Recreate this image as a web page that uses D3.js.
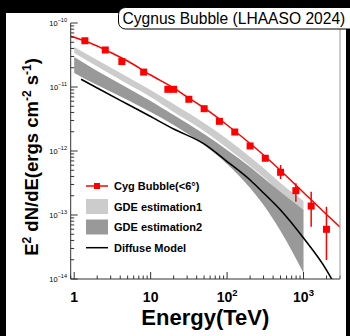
<!DOCTYPE html>
<html>
<head>
<meta charset="utf-8">
<script src="https://cdn.jsdelivr.net/npm/d3@7"></script>
<style>
  body { margin: 0; background: #000; }
  text { font-family: "Liberation Sans", Arial, Helvetica, sans-serif; }
</style>
</head>
<body>
<script>
// chart size and plot box
const WIDTH = 350;
const HEIGHT = 336;
const PLOT = {left: 70.7, right: 340, top: 23, bottom: 279};

// Cyg Bubble data points (TeV, erg cm-2 s-1)
const energy = [1.38, 2.55, 4.2, 8.1, 16.8, 20, 31.6, 50.1, 79.4, 126, 200, 316, 501, 794, 1259, 1995];
const flux = [5.28e-11, 3.79e-11, 2.50e-11, 1.71e-11, 9.2e-12, 9.2e-12, 6.43e-12, 4.58e-12, 2.91e-12, 1.98e-12, 1.20e-12, 7.7e-13, 4.65e-13, 2.40e-13, 1.38e-13, 5.98e-14];
const fluxLow = [5.28e-11, 3.79e-11, 2.50e-11, 1.71e-11, 9.2e-12, 9.2e-12, 6.43e-12, 4.58e-12, 2.91e-12, 1.98e-12, 1.20e-12, 7.7e-13, 3.65e-13, 1.61e-13, 6.56e-14, 1.98e-14];
const fluxHigh = [5.28e-11, 3.79e-11, 2.50e-11, 1.71e-11, 9.2e-12, 9.2e-12, 6.43e-12, 4.58e-12, 2.91e-12, 1.98e-12, 1.20e-12, 7.7e-13, 6.04e-13, 3.13e-13, 2.31e-13, 1.35e-13];

// fitted spectrum (red line)
const fitEnergy = [0.9, 1, 2, 3, 5, 10, 20, 30, 50, 100, 200, 300, 500, 1000, 2000, 3000];
const fitFlux = [6.26e-11, 6.00e-11, 4.37e-11, 3.46e-11, 2.55e-11, 1.54e-11, 9.65e-12, 6.98e-12, 4.70e-12, 2.55e-12, 1.31e-12, 8.66e-13, 4.96e-13, 2.25e-13, 1.02e-13, 6.49e-14];

// GDE bands
const gdeEnergy = [1, 2, 5, 10, 20, 50, 100, 200, 300, 500, 1000];
const gde1High = [4.22e-11, 2.64e-11, 1.43e-11, 8.98e-12, 5.43e-12, 2.74e-12, 1.54e-12, 8.06e-13, 5.43e-13, 3.16e-13, 1.66e-13];
const gde1Low = [3.40e-11, 2.09e-11, 1.11e-11, 6.98e-12, 4.07e-12, 2.05e-12, 1.11e-12, 5.83e-13, 3.92e-13, 2.21e-13, 1.11e-13];
const gde2High = [2.94e-11, 1.78e-11, 9.65e-12, 6.04e-12, 3.65e-12, 1.84e-12, 1.04e-12, 5.62e-13, 3.79e-13, 2.29e-13, 1.20e-13];
const gde2Low = [1.66e-11, 1.07e-11, 6.26e-12, 4.07e-12, 2.55e-12, 1.24e-12, 6.26e-13, 2.64e-13, 1.43e-13, 5.62e-14, 1.24e-14];

// diffuse model (black line)
const modelEnergy = [1.23, 2, 5, 10, 20, 50, 100, 200, 300, 500, 1000, 2000, 2500];
const modelFlux = [1.32e-11, 9.65e-12, 5.37e-12, 3.45e-12, 2.21e-12, 1.29e-12, 6.85e-13, 3.52e-13, 2.21e-13, 1.20e-13, 4.37e-14, 1.38e-14, 8.66e-15];

// axis ticks
const yDecades = [-14, -13, -12, -11, -10];
const xMajor = [1, 10, 100, 1000];
const xLabels = [["1", ""], ["10", ""], ["10", "2"], ["10", "3"]];

const legendLabels = ["Cyg Bubble(<6\u00B0)", "GDE estimation1", "GDE estimation2", "Diffuse Model"];

const svg = d3.select("body").append("svg")
    .attr("width", WIDTH)
    .attr("height", HEIGHT);

svg.append("rect").attr("width", WIDTH).attr("height", HEIGHT).attr("fill", "#000");
svg.append("rect").attr("x", 6).attr("y", 13).attr("width", 340).attr("height", HEIGHT - 13).attr("fill", "#fff");

const x = d3.scaleLog().domain([0.9, 3000]).range([PLOT.left, PLOT.right]);
const y = d3.scaleLog().domain([1e-14, 1e-10]).range([PLOT.bottom, PLOT.top]);

svg.append("clipPath").attr("id", "plotclip")
  .append("rect")
    .attr("x", PLOT.left).attr("y", PLOT.top)
    .attr("width", PLOT.right - PLOT.left).attr("height", PLOT.bottom - PLOT.top);

const plot = svg.append("g").attr("clip-path", "url(#plotclip)");

// bands
const area = d3.area()
    .x(d => x(d[0]))
    .y0(d => y(d[1]))
    .y1(d => y(d[2]))
    .curve(d3.curveMonotoneX);

plot.append("path")
    .datum(gdeEnergy.map((e, i) => [e, gde1Low[i], gde1High[i]]))
    .attr("d", area)
    .attr("fill", "#cccccc");

plot.append("path")
    .datum(gdeEnergy.map((e, i) => [e, gde2Low[i], gde2High[i]]))
    .attr("d", area)
    .attr("fill", "#999999");

const line = d3.line()
    .x(d => x(d[0]))
    .y(d => y(d[1]))
    .curve(d3.curveMonotoneX);

plot.append("path")
    .datum(modelEnergy.map((e, i) => [e, modelFlux[i]]))
    .attr("d", line)
    .attr("fill", "none")
    .attr("stroke", "#000")
    .attr("stroke-width", 1.6);

plot.append("path")
    .datum(fitEnergy.map((e, i) => [e, fitFlux[i]]))
    .attr("d", line)
    .attr("fill", "none")
    .attr("stroke", "#ff0000")
    .attr("stroke-width", 1.5);

// error bars
plot.append("g").selectAll("line")
    .data(energy.map((e, i) => [e, fluxLow[i], fluxHigh[i]]).filter(d => d[1] !== d[2]))
    .enter()
    .append("line")
    .attr("x1", d => x(d[0])).attr("x2", d => x(d[0]))
    .attr("y1", d => y(d[1])).attr("y2", d => y(d[2]))
    .attr("stroke", "#ff0000")
    .attr("stroke-width", 1.5);

// square markers
const MS = 7;
plot.append("g").selectAll("rect")
    .data(energy.map((e, i) => [e, flux[i]]))
    .enter()
    .append("rect")
    .attr("x", d => x(d[0]) - MS / 2)
    .attr("y", d => y(d[1]) - MS / 2)
    .attr("width", MS).attr("height", MS)
    .attr("fill", "#ff0000");

// axes
const axis = svg.append("g").attr("stroke", "#333").attr("stroke-width", 1);
axis.append("line").attr("x1", PLOT.left).attr("x2", PLOT.left).attr("y1", PLOT.top).attr("y2", PLOT.bottom);
axis.append("line").attr("x1", PLOT.left).attr("x2", PLOT.right).attr("y1", PLOT.bottom).attr("y2", PLOT.bottom);
svg.append("line").attr("x1", PLOT.right).attr("x2", PLOT.right).attr("y1", PLOT.top).attr("y2", PLOT.bottom)
    .attr("stroke", "#999").attr("stroke-width", 1);

// y ticks
const yTicks = [];
yDecades.forEach(d => {
  yTicks.push([Math.pow(10, d), 7]);
  if (d < -10) for (let k = 2; k <= 9; k++) yTicks.push([k * Math.pow(10, d), 3.5]);
});
axis.selectAll(".ytick").data(yTicks).enter().append("line")
    .attr("x1", PLOT.left).attr("x2", d => PLOT.left + d[1])
    .attr("y1", d => y(d[0])).attr("y2", d => y(d[0]));

const yLab = svg.append("g").selectAll("text").data(yDecades).enter().append("text")
    .attr("x", 67).attr("y", d => y(Math.pow(10, d)) + 2.5)
    .attr("text-anchor", "end")
    .attr("font-size", 7.5)
    .attr("fill", "#000");
yLab.append("tspan").text("10");
yLab.append("tspan").attr("dy", -3.5).attr("font-size", 5.5).text(d => "\u2212" + (-d));

// x ticks
const xTicks = [];
for (let d = -1; d <= 3; d++) {
  for (let k = 1; k <= 9; k++) {
    const v = k * Math.pow(10, d);
    if (v >= 0.9 && v <= 3000) xTicks.push([v, k === 1 ? 7 : 3.5]);
  }
}
axis.selectAll(".xtick").data(xTicks).enter().append("line")
    .attr("x1", d => x(d[0])).attr("x2", d => x(d[0]))
    .attr("y1", PLOT.bottom).attr("y2", d => PLOT.bottom - d[1]);

const xLab = svg.append("g").selectAll("text").data(xMajor).enter().append("text")
    .attr("x", d => x(d)).attr("y", 302)
    .attr("text-anchor", "middle")
    .attr("font-size", 14)
    .attr("font-weight", "bold");
xLab.append("tspan").text((d, i) => xLabels[i][0]);
xLab.append("tspan").attr("dy", -6).attr("font-size", 9.5).text((d, i) => xLabels[i][1]);

// axis titles
svg.append("text")
    .attr("x", (PLOT.left + PLOT.right) / 2).attr("y", 325)
    .attr("text-anchor", "middle")
    .attr("font-size", 22)
    .attr("font-weight", "bold")
    .text("Energy(TeV)");

const yTitle = svg.append("text")
    .attr("transform", "translate(38,157) rotate(-90)")
    .attr("text-anchor", "middle")
    .attr("font-size", 18.5)
    .attr("font-weight", "bold");
yTitle.append("tspan").text("E");
yTitle.append("tspan").attr("dy", -7).attr("font-size", 12).text("2");
yTitle.append("tspan").attr("dy", 7).text(" dN/dE(ergs cm");
yTitle.append("tspan").attr("dy", -7).attr("font-size", 12).text("-2");
yTitle.append("tspan").attr("dy", 7).text(" s");
yTitle.append("tspan").attr("dy", -7).attr("font-size", 12).text("-1");
yTitle.append("tspan").attr("dy", 7).text(")");

// legend
const legendY = [186, 206.5, 227, 247.7];
const legend = svg.append("g");
legend.append("line").attr("x1", 86).attr("x2", 108).attr("y1", legendY[0]).attr("y2", legendY[0])
    .attr("stroke", "#ff0000").attr("stroke-width", 1.5);
legend.append("rect").attr("x", 97 - 3).attr("y", legendY[0] - 3).attr("width", 6).attr("height", 6).attr("fill", "#ff0000");
legend.append("rect").attr("x", 86).attr("y", legendY[1] - 7.5).attr("width", 22).attr("height", 15).attr("fill", "#cccccc");
legend.append("rect").attr("x", 86).attr("y", legendY[2] - 7.5).attr("width", 22).attr("height", 15).attr("fill", "#999999");
legend.append("line").attr("x1", 86).attr("x2", 108).attr("y1", legendY[3]).attr("y2", legendY[3])
    .attr("stroke", "#000").attr("stroke-width", 1.5);
legend.selectAll("text").data(legendLabels).enter().append("text")
    .attr("x", 114).attr("y", (d, i) => legendY[i] + 4)
    .attr("font-size", 11)
    .attr("font-weight", "bold")
    .text(d => d);

// title box
svg.append("rect")
    .attr("x", 118.5).attr("y", 7.5).attr("width", 240).attr("height", 21.5).attr("rx", 7)
    .attr("fill", "#fff").attr("stroke", "#000").attr("stroke-width", 1);
svg.append("text")
    .attr("x", 122.5).attr("y", 23.5)
    .attr("font-size", 15.6)
    .text("Cygnus Bubble (LHAASO 2024)");
</script>
</body>
</html>
